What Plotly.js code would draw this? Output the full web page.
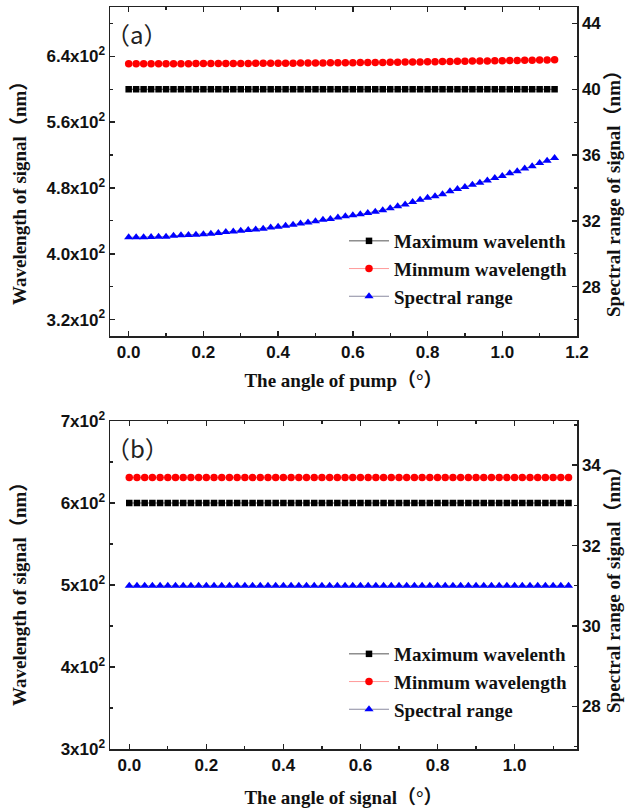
<!DOCTYPE html>
<html>
<head>
<meta charset="utf-8">
<script src="https://cdn.plot.ly/plotly-3.0.1.min.js"></script>
<style>
html,body{margin:0;padding:0;background:#fff;}
#chart{width:626px;height:811px;}
</style>
</head>
<body>
<div id="chart"></div>
<script>
// ---------- data ----------
var anglePump = [0.00,0.02,0.04,0.06,0.08,0.10,0.12,0.14,0.16,0.18,
  0.20,0.22,0.24,0.26,0.28,0.30,0.32,0.34,0.36,0.38,
  0.40,0.42,0.44,0.46,0.48,0.50,0.52,0.54,0.56,0.58,
  0.60,0.62,0.64,0.66,0.68,0.70,0.72,0.74,0.76,0.78,
  0.80,0.82,0.84,0.86,0.88,0.90,0.92,0.94,0.96,0.98,
  1.00,1.02,1.04,1.06,1.08,1.10,1.12,1.14];
var maxWavelengthA = [600,600,600,600,600,600,600,600,600,600,
  600,600,600,600,600,600,600,600,600,600,
  600,600,600,600,600,600,600,600,600,600,
  600,600,600,600,600,600,600,600,600,600,
  600,600,600,600,600,600,600,600,600,600,
  600,600,600,600,600,600,600,600];
var minWavelengthA = [631.00,631.00,631.01,631.02,631.03,631.04,631.10,631.12,631.14,631.16,
  631.18,631.22,631.26,631.32,631.36,631.40,631.44,631.48,631.52,631.60,
  631.64,631.70,631.76,631.84,631.90,631.98,632.06,632.12,632.20,632.28,
  632.34,632.40,632.48,632.56,632.64,632.76,632.88,633.00,633.14,633.28,
  633.40,633.50,633.62,633.80,633.94,634.06,634.20,634.32,634.46,634.60,
  634.72,634.90,635.02,635.18,635.32,635.52,635.66,635.82];
var spectralRangeA = [31.00,31.00,31.01,31.02,31.03,31.04,31.10,31.12,31.14,31.16,
  31.18,31.22,31.26,31.32,31.36,31.40,31.44,31.48,31.52,31.60,
  31.64,31.70,31.76,31.84,31.90,31.98,32.06,32.12,32.20,32.28,
  32.34,32.40,32.48,32.56,32.64,32.76,32.88,33.00,33.14,33.28,
  33.40,33.50,33.62,33.80,33.94,34.06,34.20,34.32,34.46,34.60,
  34.72,34.90,35.02,35.18,35.32,35.52,35.66,35.82];

var angleSignal = [0.00,0.02,0.04,0.06,0.08,0.10,0.12,0.14,0.16,0.18,
  0.20,0.22,0.24,0.26,0.28,0.30,0.32,0.34,0.36,0.38,
  0.40,0.42,0.44,0.46,0.48,0.50,0.52,0.54,0.56,0.58,
  0.60,0.62,0.64,0.66,0.68,0.70,0.72,0.74,0.76,0.78,
  0.80,0.82,0.84,0.86,0.88,0.90,0.92,0.94,0.96,0.98,
  1.00,1.02,1.04,1.06,1.08,1.10,1.12,1.14];
var maxWavelengthB = [600,600,600,600,600,600,600,600,600,600,
  600,600,600,600,600,600,600,600,600,600,
  600,600,600,600,600,600,600,600,600,600,
  600,600,600,600,600,600,600,600,600,600,
  600,600,600,600,600,600,600,600,600,600,
  600,600,600,600,600,600,600,600];
var minWavelengthB = [631,631,631,631,631,631,631,631,631,631,
  631,631,631,631,631,631,631,631,631,631,
  631,631,631,631,631,631,631,631,631,631,
  631,631,631,631,631,631,631,631,631,631,
  631,631,631,631,631,631,631,631,631,631,
  631,631,631,631,631,631,631,631];
var spectralRangeB = [31,31,31,31,31,31,31,31,31,31,
  31,31,31,31,31,31,31,31,31,31,
  31,31,31,31,31,31,31,31,31,31,
  31,31,31,31,31,31,31,31,31,31,
  31,31,31,31,31,31,31,31,31,31,
  31,31,31,31,31,31,31,31];

var seriesNames = ['Maximum wavelenth', 'Minmum wavelength', 'Spectral range'];
var leftTickValsA = [320, 400, 480, 560, 640];
var leftTickTextA = ['3.2x10<sup>2</sup>', '4.0x10<sup>2</sup>', '4.8x10<sup>2</sup>', '5.6x10<sup>2</sup>', '6.4x10<sup>2</sup>'];
var leftTickValsB = [300, 400, 500, 600, 700];
var leftTickTextB = ['3x10<sup>2</sup>', '4x10<sup>2</sup>', '5x10<sup>2</sup>', '6x10<sup>2</sup>', '7x10<sup>2</sup>'];
var leftTitle = 'Wavelength of signal（nm）';
var rightTitle = 'Spectral range of signal（nm）';

// ---------- styles ----------
var W = 626, H = 811;
var tickFont = {family: 'Liberation Sans, Arial, sans-serif', size: 17, weight: 'bold', color: '#111'};
var titleFont = {family: 'Liberation Serif, "Times New Roman", "Noto Sans CJK SC", serif', size: 19, weight: 'bold', color: '#111'};
var legendFont = {family: 'Liberation Serif, "Times New Roman", serif', size: 19, weight: 'bold', color: '#111'};
var panelFont = {family: '"Noto Sans CJK SC", Arial, sans-serif', size: 24, color: '#222'};
var axisColor = '#222';

function baseAxis(extra) {
  var a = {
    showline: true, linecolor: axisColor, linewidth: 1.5,
    ticks: 'inside', ticklen: 5, tickwidth: 1.5, tickcolor: axisColor,
    showgrid: false, zeroline: false, tickfont: tickFont, fixedrange: true
  };
  for (var k in extra) a[k] = extra[k];
  return a;
}
function minorAxis(extra) {
  var m = {ticks: 'inside', ticklen: 3, tickwidth: 1.2, tickcolor: axisColor, showgrid: false};
  for (var k in extra) m[k] = extra[k];
  return m;
}

var xDom = [110 / W, 577 / W];
var yDomA = [1 - 336 / H, 1 - 7 / H];
var yDomB = [1 - 749 / H, 1 - 421 / H];

var traces = [
  {x: anglePump, y: maxWavelengthA, name: seriesNames[0], xaxis: 'x', yaxis: 'y', legend: 'legend',
   mode: 'lines+markers', line: {color: '#555', width: 1}, marker: {symbol: 'square', size: 6.5, color: '#000'}},
  {x: anglePump, y: minWavelengthA, name: seriesNames[1], xaxis: 'x', yaxis: 'y', legend: 'legend',
   mode: 'lines+markers', line: {color: '#ff9a9a', width: 1}, marker: {symbol: 'circle', size: 7.5, color: '#ff0000'}},
  {x: anglePump, y: spectralRangeA, name: seriesNames[2], xaxis: 'x', yaxis: 'y2', legend: 'legend',
   mode: 'lines+markers', line: {color: '#8a8aa0', width: 1}, marker: {symbol: 'triangle-up', size: 8, color: '#0000ff'}},
  {x: angleSignal, y: maxWavelengthB, name: seriesNames[0], xaxis: 'x2', yaxis: 'y3', legend: 'legend2',
   mode: 'lines+markers', line: {color: '#555', width: 1}, marker: {symbol: 'square', size: 6.5, color: '#000'}},
  {x: angleSignal, y: minWavelengthB, name: seriesNames[1], xaxis: 'x2', yaxis: 'y3', legend: 'legend2',
   mode: 'lines+markers', line: {color: '#ff9a9a', width: 1}, marker: {symbol: 'circle', size: 7.5, color: '#ff0000'}},
  {x: angleSignal, y: spectralRangeB, name: seriesNames[2], xaxis: 'x2', yaxis: 'y4', legend: 'legend2',
   mode: 'lines+markers', line: {color: '#8a8aa0', width: 1}, marker: {symbol: 'triangle-up', size: 8, color: '#0000ff'}}
];

function yTitle(text, xPx, yPx) {
  return {text: text, xref: 'paper', yref: 'paper', x: xPx / W, y: 1 - yPx / H, xanchor: 'center', yanchor: 'middle',
          textangle: -90, showarrow: false, font: titleFont};
}

var layout = {
  width: W, height: H,
  margin: {l: 0, r: 0, t: 0, b: 0},
  paper_bgcolor: '#fff', plot_bgcolor: 'rgba(0,0,0,0)',
  showlegend: true,
  xaxis: baseAxis({domain: xDom, anchor: 'y', range: [-0.05, 1.2], tick0: 0, dtick: 0.2, tickformat: '.1f', mirror: 'ticks',
    minor: minorAxis({tick0: 0, dtick: 0.1}),
    title: {text: 'The angle of pump（°）', font: titleFont, standoff: 13}}),
  yaxis: baseAxis({domain: yDomA, anchor: 'x', range: [300, 700], tickmode: 'array', tickvals: leftTickValsA, ticktext: leftTickTextA,
    minor: minorAxis({tickmode: 'array', tickvals: [360, 440, 520, 600, 680]})}),
  yaxis2: baseAxis({overlaying: 'y', side: 'right', anchor: 'x', range: [25, 45], tick0: 0, dtick: 4,
    minor: minorAxis({tick0: 0, dtick: 2})}),
  xaxis2: baseAxis({domain: xDom, anchor: 'y3', range: [-0.05, 1.162], tick0: 0, dtick: 0.2, tickformat: '.1f', mirror: 'ticks',
    minor: minorAxis({tick0: 0, dtick: 0.1}),
    title: {text: 'The angle of signal（°）', font: titleFont, standoff: 17}}),
  yaxis3: baseAxis({domain: yDomB, anchor: 'x2', range: [300, 700], tickmode: 'array', tickvals: leftTickValsB, ticktext: leftTickTextB,
    minor: minorAxis({tickmode: 'array', tickvals: [350, 450, 550, 650]})}),
  yaxis4: baseAxis({overlaying: 'y3', side: 'right', anchor: 'x2', range: [26.94, 35.1], tick0: 0, dtick: 2,
    minor: minorAxis({tick0: 0, dtick: 1})}),
  legend: {x: 344 / W, y: 1 - 222 / H, xanchor: 'left', yanchor: 'top', bgcolor: 'rgba(0,0,0,0)', font: legendFont,
    itemwidth: 40, tracegroupgap: 0},
  legend2: {x: 344 / W, y: 1 - 635 / H, xanchor: 'left', yanchor: 'top', bgcolor: 'rgba(0,0,0,0)', font: legendFont,
    itemwidth: 40, tracegroupgap: 0},
  annotations: [
    {text: '（a）', xref: 'paper', yref: 'paper', x: 104 / W, y: 1 - 33 / H, xanchor: 'left', yanchor: 'middle', showarrow: false, font: panelFont},
    {text: '（b）', xref: 'paper', yref: 'paper', x: 104 / W, y: 1 - 448 / H, xanchor: 'left', yanchor: 'middle', showarrow: false, font: panelFont},
    yTitle(leftTitle, 19, 189),
    yTitle(rightTitle, 613, 189),
    yTitle(leftTitle, 19, 590),
    yTitle(rightTitle, 613, 585)
  ]
};

Plotly.newPlot('chart', traces, layout, {displayModeBar: false, staticPlot: true});
</script>
</body>
</html>
